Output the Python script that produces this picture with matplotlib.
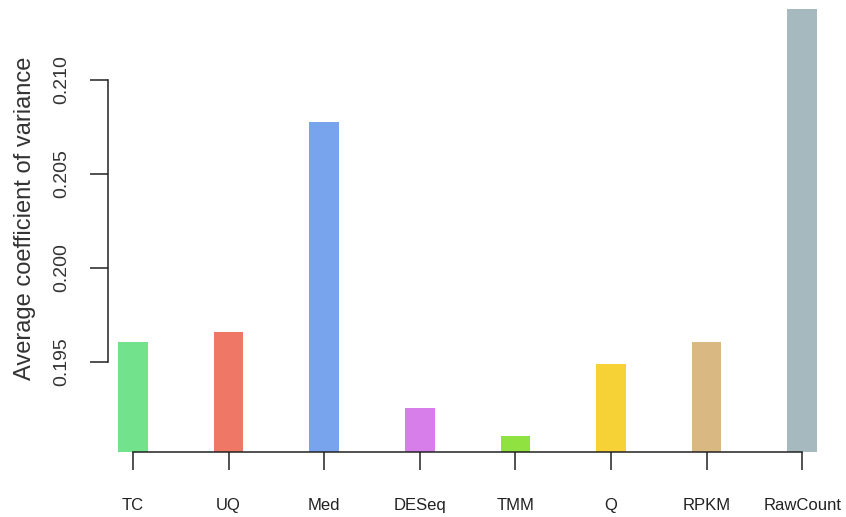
import matplotlib
matplotlib.use("Agg")
import matplotlib.pyplot as plt
import numpy as np

# Normalisation methods and their average coefficient of variance
methods = ["TC", "UQ", "Med", "DESeq", "TMM", "Q", "RPKM", "RawCount"]
avg_cv = [0.19606, 0.19660, 0.20777, 0.19255, 0.19106, 0.19489, 0.19606, 0.21378]
colors = ["#72E38C", "#EE7765", "#78A4EE", "#D77EEA", "#8FE23F", "#F6D236", "#D9B882", "#A6B9BF"]
y_ticks = [0.195, 0.200, 0.205, 0.210]
y_tick_labels = ["0.195", "0.200", "0.205", "0.210"]

W, H, DPI = 846, 517, 100
plt.rcParams["font.family"] = ["Liberation Sans", "DejaVu Sans"]
fig = plt.figure(figsize=(W / DPI, H / DPI), dpi=DPI)

# plot region in pixels
left_px, right_px, bottom_px, top_px = 108, 846, 452, 0
ax = fig.add_axes([left_px / W, 1 - bottom_px / H,
                   (right_px - left_px) / W, (bottom_px - top_px) / H])

y_min, y_max = 0.19021, 0.21425
x = np.arange(len(methods))
ax.bar(x, np.array(avg_cv) - y_min, bottom=y_min, width=0.31, color=colors,
       edgecolor="none")

ax.set_ylim(y_min, y_max)
ax.set_xlim(-0.2615, 7.458)

for s in ["top", "right"]:
    ax.spines[s].set_visible(False)
ax.spines["left"].set_bounds(y_ticks[0], y_ticks[-1])
ax.spines["bottom"].set_bounds(x[0], x[-1])
for s in ["left", "bottom"]:
    ax.spines[s].set_linewidth(1.1)
    ax.spines[s].set_color("#222222")

ax.set_yticks(y_ticks)
ax.set_yticklabels(y_tick_labels, rotation=90, va="center", fontsize=14, color="#333333")
ax.tick_params(axis="y", length=13, width=1.1, pad=14, color="#222222")

ax.set_xticks(x)
ax.set_xticklabels(methods, fontsize=12, color="#222222")
ax.tick_params(axis="x", length=13, width=1.1, pad=20, color="#222222")

fig.text(25 / W, 1 - 218 / H, "Average coefficient of variance", rotation=90,
         ha="center", va="center", fontsize=17, color="#333333")

fig.savefig("out.png", dpi=DPI, facecolor="white")
